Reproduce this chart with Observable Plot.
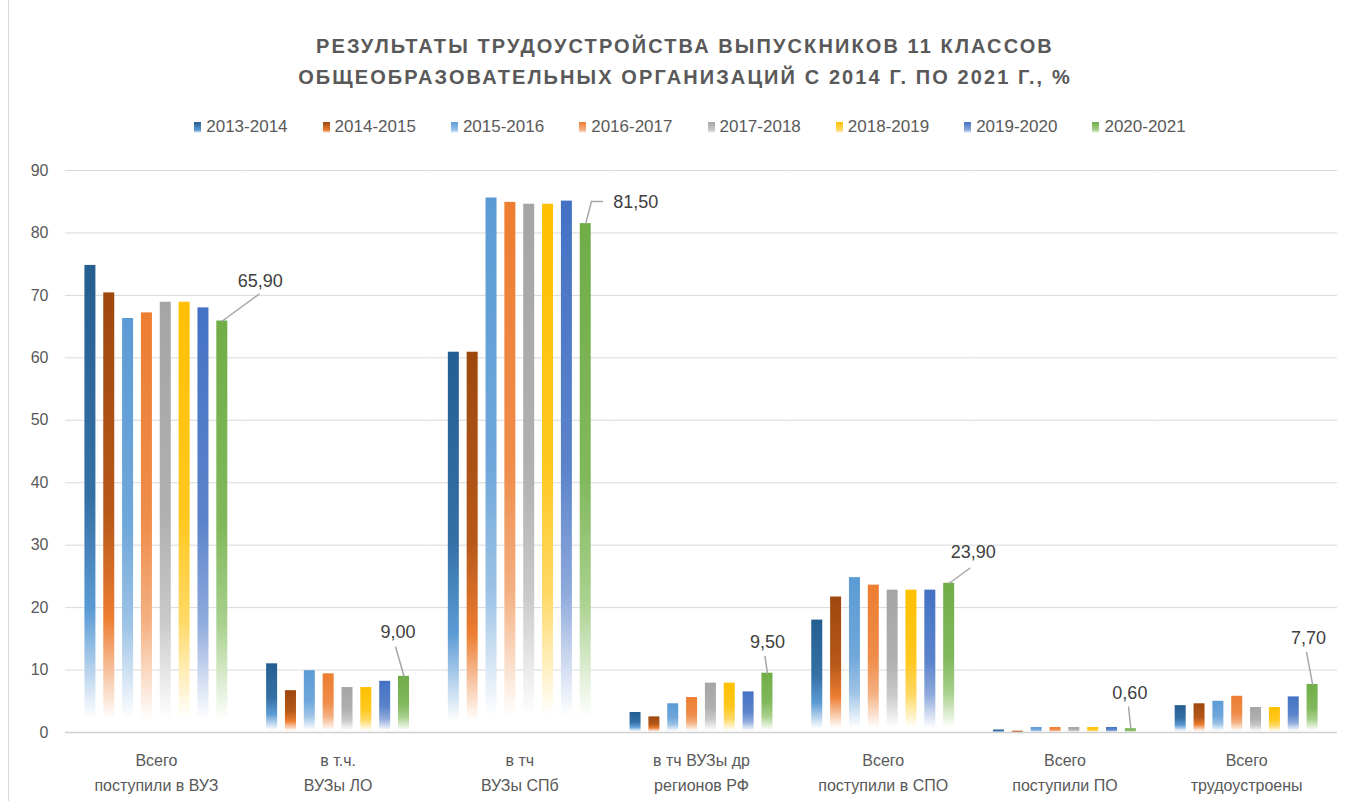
<!DOCTYPE html>
<html>
<head>
<meta charset="utf-8">
<script src="https://cdn.jsdelivr.net/npm/d3@7"></script>
<script src="https://cdn.jsdelivr.net/npm/@observablehq/plot@0.6"></script>
<style>
html,body{margin:0;padding:0;background:#fff;}
body{width:1350px;height:801px;position:relative;overflow:hidden;font-family:"Liberation Sans",Arial,sans-serif;}
#frame{position:absolute;left:8px;top:0;width:1px;height:801px;background:#d9d9d9;}
#title{position:absolute;left:0;width:1370px;top:31px;text-align:center;font-weight:bold;font-size:20px;letter-spacing:2.1px;line-height:31px;color:#595959;}
#legend{position:absolute;top:116px;left:0;width:1380px;display:flex;justify-content:center;gap:35px;font-size:17px;color:#595959;line-height:22px;}
.item{display:flex;align-items:center;}
.mk{width:7px;height:11px;margin-right:5px;}
#chart{position:absolute;left:0;top:140px;}
</style>
</head>
<body>
<div id="frame"></div>
<div id="title">РЕЗУЛЬТАТЫ ТРУДОУСТРОЙСТВА ВЫПУСКНИКОВ 11 КЛАССОВ<br>ОБЩЕОБРАЗОВАТЕЛЬНЫХ ОРГАНИЗАЦИЙ С 2014 Г. ПО 2021 Г., %</div>
<div id="legend"></div>
<svg id="defs" width="0" height="0" style="position:absolute"><defs></defs></svg>
<div id="chart"></div>
<script>
// ---- data ----
const categories = [
  "Всего\nпоступили в ВУЗ",
  "в т.ч.\nВУЗы ЛО",
  "в тч\nВУЗы СПб",
  "в тч ВУЗы др\nрегионов РФ",
  "Всего\nпоступили в СПО",
  "Всего\nпоступили ПО",
  "Всего\nтрудоустроены"
];
const series = ["2013-2014","2014-2015","2015-2016","2016-2017","2017-2018","2018-2019","2019-2020","2020-2021"];
const v2013_2014 = [74.8, 11.0, 60.9, 3.2, 18.0, 0.4, 4.3];
const v2014_2015 = [70.4, 6.7, 60.9, 2.5, 21.7, 0.2, 4.6];
const v2015_2016 = [66.3, 9.9, 85.6, 4.6, 24.8, 0.8, 5.0];
const v2016_2017 = [67.2, 9.4, 84.9, 5.6, 23.6, 0.8, 5.8];
const v2017_2018 = [68.9, 7.2, 84.6, 7.9, 22.8, 0.8, 4.0];
const v2018_2019 = [68.9, 7.2, 84.6, 7.9, 22.8, 0.8, 4.0];
const v2019_2020 = [68.0, 8.2, 85.1, 6.5, 22.8, 0.8, 5.7];
const v2020_2021 = [65.9, 9.0, 81.5, 9.5, 23.9, 0.6, 7.7];
const yTicks = [0, 10, 20, 30, 40, 50, 60, 70, 80, 90];
const labeledSeries = "2020-2021";

// ---- styles ----
const topColors = ["#255E91","#9E480E","#5B9BD5","#ED7D31","#A5A5A5","#FFC000","#4472C4","#70AD47"];
const midColors = ["#5B9BD5","#ED7D31","#9DC3E6","#F4B183","#C9C9C9","#FFD966","#8FAADC","#A9D18E"];
// label offsets (px) from the top of the labelled bar: label centre (dx,dy), leader end (lx,ly)
const labelLayout = [
  {dx: 38, dy: -40, lx: 36.6, ly: -26.7},
  {dx: -6, dy: -44, lx: -8.4, ly: -29.3},
  {dx: 50, dy: -21, lx: 5.7, ly: -22, hook: 11},
  {dx: 0, dy: -31, lx: -2.4, ly: -16.6},
  {dx: 24, dy: -31, lx: 20.7, ly: -15},
  {dx: -1, dy: -36, lx: -2.3, ly: -21.7},
  {dx: -4, dy: -46, lx: -6, ly: -32}
];

// gradients
const defs = d3.select("#defs defs");
topColors.forEach((c, i) => {
  const g = defs.append("linearGradient").attr("id", "g" + i)
    .attr("x1", 0).attr("y1", 0).attr("x2", 0).attr("y2", 1);
  g.append("stop").attr("offset", 0).attr("stop-color", c);
  g.append("stop").attr("offset", 0.5).attr("stop-color", d3.interpolateRgb(c, midColors[i])(0.3));
  g.append("stop").attr("offset", 0.74).attr("stop-color", midColors[i]);
  g.append("stop").attr("offset", 0.97).attr("stop-color", "#ffffff");
  g.append("stop").attr("offset", 1).attr("stop-color", "#ffffff");
});

// legend
const legend = d3.select("#legend");
series.forEach((s, i) => {
  const it = legend.append("div").attr("class", "item");
  it.append("div").attr("class", "mk")
    .style("background", `linear-gradient(${topColors[i]}, ${midColors[i]} 75%, #fff)`);
  it.append("span").text(s);
});

// table
const valueArrays = [v2013_2014, v2014_2015, v2015_2016, v2016_2017, v2017_2018, v2018_2019, v2019_2020, v2020_2021];
const rows = [];
series.forEach((s, si) => categories.forEach((c, ci) => rows.push({cat: c, series: s, value: valueArrays[si][ci]})));

const fmt = v => v.toFixed(2).replace(".", ",");
const leaderShape = {draw(context, l) { context.moveTo(0, 0); context.lineTo(0, -l); }};

const labelMarks = [];
categories.forEach((c, ci) => {
  const d = rows.find(r => r.cat === c && r.series === labeledSeries);
  const L = labelLayout[ci];
  const len = Math.hypot(L.lx, L.ly);
  const rot = Math.atan2(L.lx, -L.ly) * 180 / Math.PI;
  labelMarks.push(Plot.vector([d], {fx: "cat", x: "series", y: "value", length: len, rotate: rot, anchor: "start",
    shape: leaderShape, stroke: "#a6a6a6", strokeWidth: 1.5}));
  if (L.hook) {
    labelMarks.push(Plot.vector([d], {fx: "cat", x: "series", y: "value", length: L.hook, rotate: 90, anchor: "start",
      dx: L.lx, dy: L.ly, shape: leaderShape, stroke: "#a6a6a6", strokeWidth: 1.5}));
  }
  labelMarks.push(Plot.text([d], {fx: "cat", x: "series", y: "value", text: r => fmt(r.value), dx: L.dx, dy: L.dy,
    fontSize: 18, fill: "#404040"}));
});

const chart = Plot.plot({
  width: 1350, height: 661,
  marginLeft: 65, marginRight: 13, marginTop: 30, marginBottom: 69,
  style: {fontFamily: "Liberation Sans, Arial, sans-serif", fontSize: "16px", color: "#595959", background: "transparent"},
  fx: {domain: categories, padding: 0, round: false, axis: null, label: null},
  x: {domain: series, paddingInner: 0.416, paddingOuter: 1.03, round: false, axis: null},
  y: {domain: [0, 90], ticks: yTicks, tickSize: 0, tickPadding: 17, label: null, tickFormat: d => String(d)},
  color: {domain: series, range: series.map((s, i) => `url(#g${i})`)},
  marks: [
    Plot.ruleY(yTicks.filter(t => t > 0), {stroke: "#d9d9d9", strokeWidth: 1}),
    Plot.barY(rows, {fx: "cat", x: "series", y: "value", fill: "series"}),
    Plot.ruleY([0], {stroke: "#d0d0d0", strokeWidth: 1.5}),
    Plot.text(categories, {fx: d => d, text: d => d, frameAnchor: "bottom", dy: 38, lineAnchor: "middle",
      lineHeight: 1.5625, fontSize: 16, fill: "#595959"}),
    ...labelMarks
  ]
});
document.getElementById("chart").appendChild(chart);
</script>
</body>
</html>
